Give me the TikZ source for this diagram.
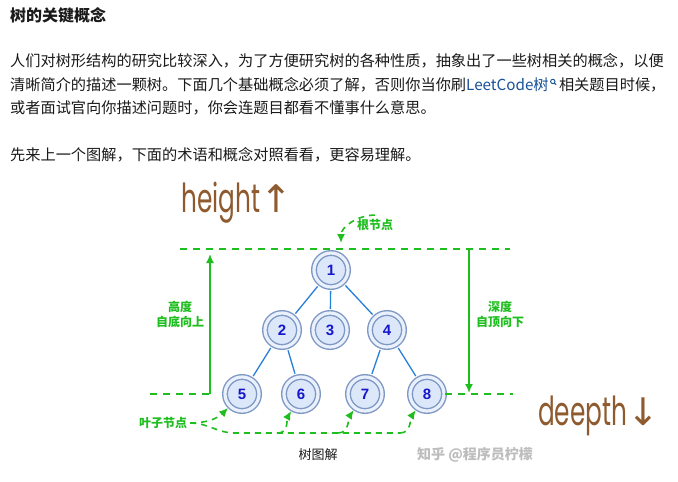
\documentclass[tikz,border=0pt]{standalone}
\usepackage{fontspec}
\usepackage{graphicx}
\setmainfont{Noto Sans CJK SC}
\newfontfamily\numfont{Liberation Sans}
\newfontfamily\handfont{Poppins}
\newfontfamily\symfont{DejaVu Sans}
\usetikzlibrary{arrows.meta,positioning}

\definecolor{txt}{HTML}{1A1A1A}
\definecolor{linkblue}{HTML}{175199}
\definecolor{tgreen}{HTML}{1EBE1E}
\definecolor{nodefill}{HTML}{DCE8FA}
\definecolor{noderim}{HTML}{7D98C4}
\definecolor{numblue}{HTML}{1616CC}
\definecolor{edgeblue}{HTML}{2680DA}
\definecolor{hand}{HTML}{8E5A2E}
\definecolor{wmark}{HTML}{BDBDBD}

\newcommand{\handtxt}[1]{\scalebox{0.62}[1]{#1}}

\begin{document}
\begin{tikzpicture}[x=1pt,y=-1pt,
  every node/.style={inner sep=0pt,text=txt},
  para/.style={anchor=west,font=\fontsize{15.2}{15}\selectfont},
  tnode/.style={circle,draw=noderim,line width=1.4pt,double=nodefill!60!white,
                double distance=3.2pt,fill=nodefill,minimum size=34pt,
                text=numblue,font=\numfont\bfseries\fontsize{15}{15}\selectfont},
  edge/.style={edgeblue,line width=1.3pt,shorten <=3.5pt,shorten >=3.5pt},
  guide/.style={tgreen,line width=1.6pt,dash pattern=on 7pt off 6pt},
  glabel/.style={text=tgreen,align=center,
                 font=\bfseries\fontsize{12}{15}\selectfont},
  garr/.style={tgreen,line width=1.6pt,-{Latex[length=9pt,width=8pt]}},
  gdash/.style={tgreen,line width=1.6pt,dash pattern=on 6pt off 5pt},
  gtip/.style={-{Latex[length=9pt,width=8pt]},shorten >=2pt},
  scrawl/.style={anchor=base west,text=hand,
                 font=\handfont\fontsize{40}{40}\selectfont}
]
\useasboundingbox[fill=white] (0,0) rectangle (678,482);

% text above the picture
\node[para,font=\bfseries\fontsize{16}{16}\selectfont] (title) at (10,15) {树的关键概念};
\node[para] (l1) at (10,61) {人们对树形结构的研究比较深入，为了方便研究树的各种性质，抽象出了一些树相关的概念，以便};
\node[para] (l2) at (10,85) {清晰简介的描述一颗树。下面几个基础概念必须了解，否则你当你刷\textcolor{linkblue}{LeetCode树}};
\node[para,anchor=base west] (l2b) at ([xshift=10pt]l2.base east) {相关题目时候，};
\coordinate (lens) at ([xshift=4pt,yshift=-4pt]l2.north east);
\draw[linkblue,line width=0.9pt] (lens) circle (2.2pt);
\draw[linkblue,line width=1pt] (lens) ++(-45:2.2pt) -- ++(-45:2.4pt);
\node[para] (l3) at (10,108) {或者面试官向你描述问题时，你会连题目都看不懂事什么意思。};
\node[para] (l4) at (10,155) {先来上一个图解，下面的术语和概念对照看看，更容易理解。};

% the tree
\node[tnode] (n1) at (331,270) {1};
\node[tnode] (n2) at (282,330) {2};
\node[tnode] (n3) at (330,330) {3};
\node[tnode] (n4) at (387,330) {4};
\node[tnode] (n5) at (242,394) {5};
\node[tnode] (n6) at (301,394) {6};
\node[tnode] (n7) at (365,394) {7};
\node[tnode] (n8) at (427,394) {8};
\foreach \a/\b in {n1/n2,n1/n3,n1/n4,n2/n5,n2/n6,n4/n7,n4/n8}
  \draw[edge] (\a) -- (\b);

% levels
\coordinate (topL) at (180,249);
\coordinate (topR) at (510,249);
\coordinate (botL) at (150,394);
\coordinate (botR) at (513,394);
\coordinate (hLow) at (210,394);
\coordinate (hHigh) at (210,254);
\coordinate (dHigh) at (469,249);
\coordinate (dLow) at (469,393);
\draw[guide] (topL) -- (topR);
\draw[guide] (botL) -- (hLow);
\draw[guide] (n8) -- (botR);
\draw[garr] (hLow) -- (hHigh);
\draw[garr] (dHigh) -- (dLow);
\node[glabel] (hlbl) at (180,314) {高度\\自底向上};
\node[glabel] (dlbl) at (500,314) {深度\\自顶向下};

% root and leaves
\node[glabel] (rlbl) at (375,225) {根节点};
\coordinate (rtip) at (341,245);
\draw[gdash,gtip] ([yshift=4pt]rlbl.north) to[out=180,in=90] (rtip);
\node[glabel] (leaf) at (163,423) {叶子节点};
\coordinate (bend) at (235,433);
\coordinate (b6) at (278,433);
\coordinate (b7) at (338,433);
\coordinate (b8) at (400,433);
\draw[gdash] ([xshift=3pt]leaf.east) to[out=0,in=180] (bend) -- (b8);
\draw[gdash,gtip] ([xshift=3pt]leaf.east) to[out=0,in=225] (n5);
\draw[gdash,gtip] (b6) to[out=0,in=240] (n6);
\draw[gdash,gtip] (b7) to[out=0,in=235] (n7);
\draw[gdash,gtip] (b8) to[out=0,in=235] (n8);

% caption and watermark
\node[font=\fontsize{13}{13}\selectfont] (cap) at (318,455) {树图解};
\node[text=wmark,font=\bfseries\fontsize{14}{14}\selectfont] (wm) at (475,455) {知乎 @程序员柠檬};

% handwritten notes
\node[scrawl] (hgt) at (181,212) {\handtxt{height}{\symfont\fontsize{38}{38}\selectfont ↑}};
\node[scrawl] (dpt) at (538,425) {\handtxt{deepth}{\symfont\fontsize{38}{38}\selectfont ↓}};
\end{tikzpicture}
\end{document}
